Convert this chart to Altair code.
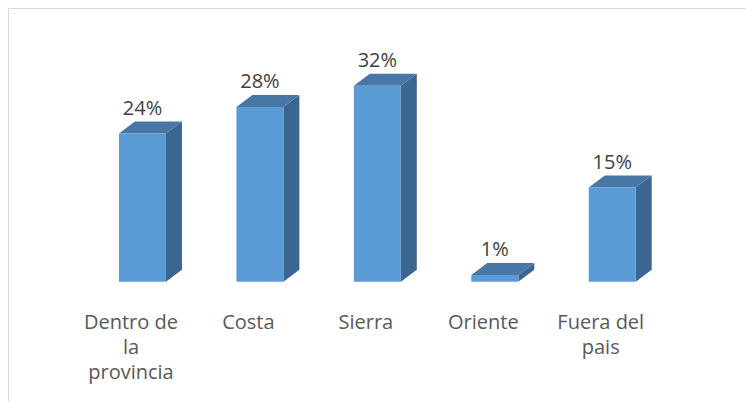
import altair as alt
import pandas as pd

# ---- data ----
categories = ["Dentro de\nla\nprovincia", "Costa", "Sierra", "Oriente", "Fuera del\npais"]
values = [23.9, 28.2, 31.6, 1.1, 15.2]
value_labels = ["24%", "28%", "32%", "1%", "15%"]

# ---- 3D look parameters (in scale units) ----
HALF = 0.2      # half width of the front face (category units)
DX = 0.136      # depth to the right (category units)
DY = 1.935      # depth upward (value units)

W, H = 738, 393
xs = alt.Scale(domain=[-1.145, 5.139], nice=False, zero=False)
ys = alt.Scale(domain=[-19.24, 44.15], nice=False, zero=False)

bars = pd.DataFrame({
    "cat": categories,
    "pos": list(range(len(categories))),
    "v": values,
    "lab": value_labels,
})
bars["x0"] = bars["pos"] - HALF
bars["x1"] = bars["pos"] + HALF
bars["base"] = 0.0

top_rows, side_rows = [], []
for k, (p, v) in enumerate(zip(range(len(categories)), values)):
    x0, x1 = p - HALF, p + HALF
    top_rows += [
        {"grp": k, "px": x0, "lo": v, "hi": v},
        {"grp": k, "px": x0 + DX, "lo": v, "hi": v + DY},
        {"grp": k, "px": x1, "lo": v, "hi": v + DY},
        {"grp": k, "px": x1 + DX, "lo": v + DY, "hi": v + DY},
    ]
    side_rows += [
        {"grp": k, "px": x1, "lo": 0.0, "hi": v},
        {"grp": k, "px": x1 + DX, "lo": DY, "hi": v + DY},
    ]
top_df = pd.DataFrame(top_rows)
side_df = pd.DataFrame(side_rows)

front = alt.Chart(bars).mark_rect(color="#5B9BD5").encode(
    x=alt.X("x0:Q", scale=xs, axis=None),
    x2="x1:Q",
    y=alt.Y("v:Q", scale=ys, axis=None),
    y2="base:Q",
)


def face(df, col):
    return alt.Chart(df).mark_area(
        color=col, fill=col, opacity=1, orient="vertical", interpolate="linear"
    ).encode(
        x=alt.X("px:Q", scale=xs, axis=None),
        y=alt.Y("lo:Q", scale=ys, axis=None, stack=None),
        y2=alt.Y2("hi:Q"),
        detail=alt.Detail("grp:N"),
    )


top = face(top_df, "#4677A6")
side = face(side_df, "#3A6690")

value_text = alt.Chart(bars).mark_text(
    font="Open Sans", fontSize=20, color="#404040",
    baseline="alphabetic", align="center", dy=-18.5,
).encode(
    x=alt.X("pos:Q", scale=xs, axis=None),
    y=alt.Y("v:Q", scale=ys, axis=None),
    text="lab:N",
)

cat_text = alt.Chart(bars).mark_text(
    font="Open Sans", fontSize=20, color="#595959",
    baseline="alphabetic", align="center", dy=47.3, dx=-11.5,
    lineBreak="\n", lineHeight=25,
).encode(
    x=alt.X("pos:Q", scale=xs, axis=None),
    y=alt.Y("base:Q", scale=ys, axis=None),
    text="cat:N",
)

frame_left = alt.Chart(bars).mark_rule(color="#D9D9D9", strokeWidth=2).encode(
    x=alt.value(0), y=alt.value(-1), y2=alt.value(H + 8)
)
frame_top = alt.Chart(bars).mark_rule(color="#D9D9D9", strokeWidth=2).encode(
    y=alt.value(0), x=alt.value(-1), x2=alt.value(W + 8)
)

chart = alt.layer(
    frame_left, frame_top, side, top, front, value_text, cat_text
).properties(
    width=W, height=H, padding=0,
    autosize=alt.AutoSizeParams(type="none"),
).configure_view(stroke="transparent", strokeWidth=0).configure(background="white")

chart.save("out.html", embed_options={"renderer": "svg", "actions": False})
